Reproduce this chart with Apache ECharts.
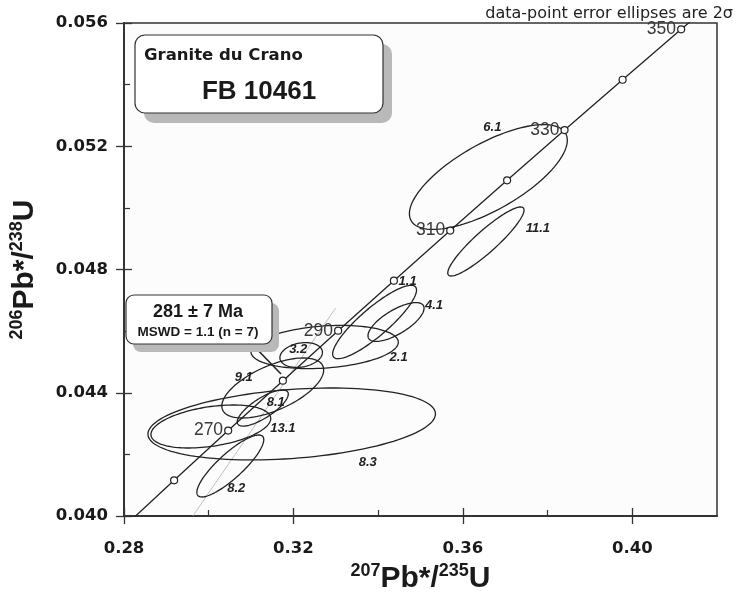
<!DOCTYPE html>
<html>
<head>
<meta charset="utf-8">
<script src="https://cdn.jsdelivr.net/npm/echarts@6/dist/echarts.min.js"></script>
<style>
  html, body { margin: 0; padding: 0; background: #ffffff; }
  #chart { width: 738px; height: 609px; }
</style>
</head>
<body>
<div id="chart"></div>
<script>
// Concordia reference ages (Ma) with their 207Pb*/235U and 206Pb*/238U ratios
const concordiaAges = [250, 260, 270, 280, 290, 300, 310, 320, 330, 340, 350, 360];
const concordiaX = [0.27916, 0.29183, 0.30460, 0.31751, 0.33055, 0.34372, 0.35702, 0.37045, 0.38401, 0.39771, 0.41154, 0.42551];
const concordiaY = [0.039543, 0.041157, 0.042773, 0.044392, 0.046014, 0.047637, 0.049264, 0.050893, 0.052525, 0.054158, 0.055794, 0.057434];
const markerAges = [260, 270, 280, 290, 300, 310, 320, 330, 340, 350];
const labelledAges = [270, 290, 310, 330, 350];

// Spot analyses: ellipse centre, 2-sigma errors and error correlation
const spotNames = ['6.1', '11.1', '1.1', '4.1', '2.1', '3.2', '9.1', '8.1', '13.1', '8.3', '8.2'];
const spotX   = [0.36602, 0.36544, 0.33916, 0.34422, 0.32737, 0.32183, 0.31512, 0.31276, 0.30050, 0.31959, 0.30510];
const spotY   = [0.051002, 0.048909, 0.046296, 0.046296, 0.045485, 0.045225, 0.044154, 0.043505, 0.042905, 0.042986, 0.041623];
const spotSx  = [0.01864, 0.00900, 0.00990, 0.00662, 0.01739, 0.00502, 0.01202, 0.00603, 0.01414, 0.03394, 0.00790];
const spotSy  = [0.001701, 0.001120, 0.001191, 0.000630, 0.000701, 0.000402, 0.000974, 0.000587, 0.000698, 0.001168, 0.001006];
const spotRho = [0.70, 0.91, 0.87, 0.71, 0.22, 0.21, 0.60, 0.77, 0.37, 0.28, 0.85];

// Thin reference line through the young population
const refLineX = [0.29626, 0.32996];
const refLineY = [0.04000, 0.04675];

// Axis ticks
const xMajorTicks = [0.28, 0.32, 0.36, 0.40];
const xMinorTicks = [0.30, 0.34, 0.38];
const yMajorTicks = [0.040, 0.044, 0.048, 0.052, 0.056];
const yMinorTicks = [0.042, 0.046, 0.050, 0.054];

// Label offsets (px) of spot names from ellipse centres
const spotLabelOffset = [[4, -50], [52, -13], [33, -41], [38, -17], [74, 10], [-3, -6], [-29, -11], [13, -6], [72, 2], [76, 38], [6, 22]];

const FONT = '"Liberation Sans", Arial, Helvetica, sans-serif';
const WIDE = '"DejaVu Sans", Verdana, sans-serif';
const INK = '#222222';

const chart = echarts.init(document.getElementById('chart'), null, { renderer: 'canvas' });

const concordiaData = concordiaAges.map((a, i) => [concordiaX[i], concordiaY[i]]);
const markerData = markerAges.map(a => {
  const i = concordiaAges.indexOf(a);
  return {
    value: [concordiaX[i], concordiaY[i]],
    age: a,
    label: { show: labelledAges.indexOf(a) >= 0 }
  };
});
const spotData = spotNames.map((n, i) => [spotX[i], spotY[i], spotSx[i], spotSy[i], spotRho[i]]);

const baseAxisLine = { lineStyle: { color: '#333', width: 1.5 } };
const titleRich = {
  s: { fontFamily: FONT, fontWeight: 'bold', fontSize: 18, lineHeight: 19, verticalAlign: 'top', color: '#1a1a1a' },
  m: { fontFamily: FONT, fontWeight: 'bold', fontSize: 30, lineHeight: 34, color: '#1a1a1a' }
};

function xAxisDef(extra) {
  return Object.assign({
    type: 'value', min: 0.28, max: 0.42, position: 'bottom',
    axisLine: baseAxisLine, splitLine: { show: false },
    axisLabel: { show: false }, axisTick: { show: false }
  }, extra);
}
function yAxisDef(extra) {
  return Object.assign({
    type: 'value', min: 0.040, max: 0.056, position: 'left',
    axisLine: baseAxisLine, splitLine: { show: false },
    axisLabel: { show: false }, axisTick: { show: false }
  }, extra);
}

const option = {
  animation: false,
  backgroundColor: '#ffffff',
  grid: {
    left: 123, right: 21, top: 23, bottom: 93,
    show: true, borderColor: '#333', borderWidth: 1.5, backgroundColor: '#fcfcfc'
  },
  xAxis: [
    xAxisDef({
      axisTick: { show: true, length: 8, customValues: xMajorTicks, lineStyle: { color: '#333', width: 1.3 } },
      axisLabel: {
        show: true, customValues: xMajorTicks, margin: 24,
        formatter: v => v.toFixed(2),
        fontFamily: WIDE, fontWeight: 'bold', fontSize: 16.5, color: '#1a1a1a'
      },
      name: '{s|207}{m|Pb*/}{s|235}{m|U}',
      nameLocation: 'middle', nameGap: 41,
      nameTextStyle: { rich: titleRich }
    }),
    xAxisDef({ axisTick: { show: true, inside: true, length: 8, customValues: xMajorTicks, lineStyle: { color: '#333', width: 1.3 } } }),
    xAxisDef({ axisTick: { show: true, inside: true, length: 6, customValues: xMinorTicks, lineStyle: { color: '#333', width: 1.2 } } })
  ],
  yAxis: [
    yAxisDef({
      axisTick: { show: true, length: 8, customValues: yMajorTicks, lineStyle: { color: '#333', width: 1.3 } },
      axisLabel: {
        show: true, customValues: yMajorTicks, margin: 16,
        formatter: v => v.toFixed(3),
        fontFamily: WIDE, fontWeight: 'bold', fontSize: 16.5, color: '#1a1a1a'
      },
      name: '{s|206}{m|Pb*/}{s|238}{m|U}',
      nameLocation: 'middle', nameGap: 82, nameRotate: 90,
      nameTextStyle: { rich: titleRich }
    }),
    yAxisDef({ axisTick: { show: true, inside: true, length: 8, customValues: yMajorTicks, lineStyle: { color: '#333', width: 1.3 } } }),
    yAxisDef({ axisTick: { show: true, inside: true, length: 6, customValues: yMinorTicks, lineStyle: { color: '#333', width: 1.2 } } })
  ],
  series: [
    {
      // thin grey reference line
      type: 'line', xAxisIndex: 0, yAxisIndex: 0, z: 1,
      data: refLineX.map((x, i) => [x, refLineY[i]]),
      showSymbol: false, silent: true, clip: true,
      lineStyle: { color: '#b0b0b0', width: 0.8 }
    },
    {
      // 2-sigma error ellipses
      type: 'custom', xAxisIndex: 0, yAxisIndex: 0, z: 2,
      data: spotData,
      encode: { x: 0, y: 1 },
      silent: true,
      renderItem: function (params, api) {
        const i = params.dataIndex;
        const cx = api.value(0), cy = api.value(1);
        const sx = api.value(2), sy = api.value(3), r = api.value(4);
        const k = Math.sqrt(1 - r * r);
        const pts = [];
        const n = 120;
        for (let j = 0; j < n; j++) {
          const t = j / n * Math.PI * 2;
          pts.push(api.coord([cx + sx * Math.cos(t), cy + sy * (r * Math.cos(t) + k * Math.sin(t))]));
        }
        const c = api.coord([cx, cy]);
        const off = spotLabelOffset[i];
        return {
          type: 'group',
          children: [
            { type: 'polygon', shape: { points: pts }, style: { fill: null, stroke: INK, lineWidth: 1.3 } },
            {
              type: 'text', x: c[0] + off[0], y: c[1] + off[1],
              style: {
                text: spotNames[i], fill: INK, align: 'center', verticalAlign: 'middle',
                font: 'italic bold 13px ' + FONT
              }
            }
          ]
        };
      }
    },
    {
      // concordia curve
      type: 'line', xAxisIndex: 0, yAxisIndex: 0, z: 3,
      data: concordiaData, showSymbol: false, silent: true, clip: true,
      lineStyle: { color: INK, width: 1.3 }
    },
    {
      // concordia age markers
      type: 'scatter', xAxisIndex: 0, yAxisIndex: 0, z: 4,
      data: markerData, symbol: 'circle', symbolSize: 7, silent: true,
      itemStyle: { color: '#ffffff', borderColor: INK, borderWidth: 1.2, opacity: 1 },
      label: {
        position: 'left', distance: 1,
        formatter: p => String(p.data.age),
        fontFamily: FONT, fontSize: 17.5, color: '#3a3a3a'
      }
    }
  ],
  graphic: [
    { type: 'text', right: 5, top: 6, style: { text: 'data-point error ellipses are 2\u03c3', font: '16px ' + WIDE, fill: '#222' } },
    // sample box
    { type: 'rect', shape: { x: 144, y: 44, width: 248, height: 79, r: 10 }, style: { fill: '#b9b9b9' }, z: 10 },
    { type: 'rect', shape: { x: 135, y: 35, width: 248, height: 78, r: 10 }, style: { fill: '#ffffff', stroke: '#333', lineWidth: 1.2 }, z: 11 },
    { type: 'text', x: 144, y: 56, style: { text: 'Granite du Crano', font: 'bold 16.5px ' + WIDE, fill: '#1a1a1a', verticalAlign: 'middle' }, z: 12 },
    { type: 'text', x: 259, y: 92, style: { text: 'FB 10461', font: 'bold 26px ' + FONT, fill: '#1a1a1a', align: 'center', verticalAlign: 'middle' }, z: 12 },
    // age box with pointer
    { type: 'line', shape: { x1: 251, y1: 343, x2: 281, y2: 374 }, style: { stroke: INK, lineWidth: 1.6 }, z: 9 },
    { type: 'rect', shape: { x: 133, y: 303, width: 146, height: 49, r: 8 }, style: { fill: '#b9b9b9' }, z: 10 },
    { type: 'rect', shape: { x: 126, y: 295, width: 146, height: 49, r: 8 }, style: { fill: '#ffffff', stroke: '#333', lineWidth: 1.2 }, z: 11 },
    { type: 'text', x: 198, y: 312, style: { text: '281 \u00b1 7 Ma', font: 'bold 18px ' + FONT, fill: '#1a1a1a', align: 'center', verticalAlign: 'middle' }, z: 12 },
    { type: 'text', x: 198, y: 332, style: { text: 'MSWD = 1.1 (n = 7)', font: 'bold 13.5px ' + FONT, fill: '#1a1a1a', align: 'center', verticalAlign: 'middle' }, z: 12 }
  ]
};

chart.setOption(option);
</script>
</body>
</html>
